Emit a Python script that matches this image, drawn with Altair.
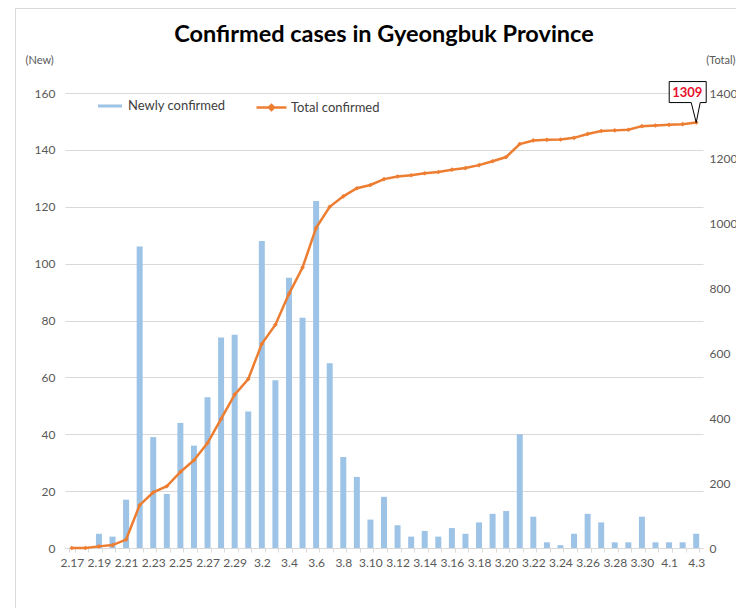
import altair as alt
import pandas as pd

dates = ["2.17", "2.18", "2.19", "2.20", "2.21", "2.22", "2.23", "2.24", "2.25", "2.26",
         "2.27", "2.28", "2.29", "3.1", "3.2", "3.3", "3.4", "3.5", "3.6", "3.7",
         "3.8", "3.9", "3.10", "3.11", "3.12", "3.13", "3.14", "3.15", "3.16", "3.17",
         "3.18", "3.19", "3.20", "3.21", "3.22", "3.23", "3.24", "3.25", "3.26", "3.27",
         "3.28", "3.29", "3.30", "3.31", "4.1", "4.2", "4.3"]
new_cases = [0, 0, 5, 4, 17, 106, 39, 19, 44, 36,
             53, 74, 75, 48, 108, 59, 95, 81, 122, 65,
             32, 25, 10, 18, 8, 4, 6, 4, 7, 5,
             9, 12, 13, 40, 11, 2, 1, 5, 12, 9,
             2, 2, 11, 2, 2, 2, 5]
total_cases = [0, 0, 5, 9, 26, 132, 171, 190, 234, 270,
               323, 397, 472, 520, 628, 687, 782, 863, 985, 1050,
               1082, 1107, 1117, 1135, 1143, 1147, 1153, 1157, 1164, 1169,
               1178, 1190, 1203, 1243, 1254, 1256, 1257, 1262, 1274, 1283,
               1285, 1287, 1298, 1300, 1302, 1304, 1309]
tick_labels = ["2.17", "2.19", "2.21", "2.23", "2.25", "2.27", "2.29", "3.2", "3.4", "3.6",
               "3.8", "3.10", "3.12", "3.14", "3.16", "3.18", "3.20", "3.22", "3.24", "3.26",
               "3.28", "3.30", "4.1", "4.3"]
series_names = ["Newly confirmed", "Total confirmed"]
left_ticks = [0, 20, 40, 60, 80, 100, 120, 140, 160]
right_ticks = [0, 200, 400, 600, 800, 1000, 1200, 1400]
last_date = "4.3"

bars_df = pd.DataFrame({"date": dates, "value": new_cases, "series": series_names[0]})
line_df = pd.DataFrame({"date": dates, "total": total_cases, "series": series_names[1]})

FONT = "Lato"
LABEL_COLOR = "#595959"
GRID = "#D9D9D9"
BLUE = "#9DC3E6"
ORANGE = "#ED7D31"

label_list = "[" + ",".join("'" + t + "'" for t in tick_labels) + "]"
x_enc = alt.X(
    "date:N", sort=dates,
    scale=alt.Scale(paddingInner=0.56, paddingOuter=0.28),
    axis=alt.Axis(
        title=None, labelAngle=0, labelOverlap=False,
        labelExpr=f"indexof({label_list}, datum.value) >= 0 ? datum.label : ''",
        labelFont=FONT, labelFontSize=12, labelColor=LABEL_COLOR, labelPadding=5,
        ticks=True, tickBand="extent", tickSize=4, tickColor=GRID,
        domain=True, domainColor=GRID, grid=False,
    ),
)

legend_line_shape = "M -1 0 L 1 0 M -0.17 0 L 0 -0.17 L 0.17 0 L 0 0.17 Z"
legend_bar_shape = "M -0.8 -0.1 L 0.8 -0.1 L 0.8 0.1 L -0.8 0.1 Z"
legend_common = dict(orient="none", legendY=-2, direction="horizontal", title=None,
                     labelFont=FONT, labelFontSize=13, labelColor="#404040",
                     symbolSize=900, labelOffset=3)
bar_legend = alt.Legend(legendX=30, symbolType=legend_bar_shape, symbolFillColor=BLUE,
                        symbolStrokeWidth=0, symbolOpacity=1, **legend_common)
line_legend = alt.Legend(legendX=190, symbolType=legend_line_shape, symbolFillColor=ORANGE,
                         symbolStrokeColor=ORANGE, symbolStrokeWidth=2.5, symbolOpacity=1,
                         **legend_common)

frame_data = alt.Data(values=[{}])
frame_left = alt.Chart(frame_data).mark_rule(color=GRID, strokeWidth=1).encode(
    x=alt.value(-49.5), y=alt.value(-85), y2=alt.value(530))
frame_top = alt.Chart(frame_data).mark_rule(color=GRID, strokeWidth=1).encode(
    x=alt.value(-49.5), x2=alt.value(700), y=alt.value(-84.5))

bars = alt.Chart(bars_df).mark_bar(opacity=1).encode(
    x=x_enc,
    y=alt.Y("value:Q", scale=alt.Scale(domain=[0, 160], nice=False),
            axis=alt.Axis(values=left_ticks, title="(New)", titleAngle=0, titleX=-40, titleY=-33,
                          titleAlign="left", titleBaseline="middle", titleFont=FONT,
                          titleFontSize=11, titleFontWeight="normal", titleColor=LABEL_COLOR,
                          labelFont=FONT, labelFontSize=12, labelColor=LABEL_COLOR,
                          labelPadding=10, ticks=False, domain=False, grid=True,
                          gridColor=GRID, gridWidth=1)),
    fill=alt.Fill("series:N", scale=alt.Scale(domain=[series_names[0]], range=[BLUE]),
                  legend=bar_legend),
)

y_right = alt.Y("total:Q", scale=alt.Scale(domain=[0, 1400], nice=False),
                axis=alt.Axis(orient="right", values=right_ticks, format="d", title="(Total)",
                              titleAngle=0, titleX=32, titleY=-33, titleAlign="right",
                              titleBaseline="middle", titleFont=FONT, titleFontSize=11,
                              titleFontWeight="normal", titleColor=LABEL_COLOR, labelFont=FONT,
                              labelFontSize=12, labelColor=LABEL_COLOR, labelPadding=6,
                              ticks=False, domain=False, grid=False))

line = alt.Chart(line_df).mark_line(strokeWidth=2.5).encode(
    x=alt.X("date:N", sort=dates), y=y_right,
    stroke=alt.Stroke("series:N", scale=alt.Scale(domain=[series_names[1]], range=[ORANGE]),
                      legend=line_legend),
)
pts = alt.Chart(line_df).mark_point(filled=True, shape="diamond", size=22, opacity=1,
                                    color=ORANGE).encode(
    x=alt.X("date:N", sort=dates), y=alt.Y("total:Q"),
)
callout_shape = "M -0.675 -1.025 L 0.25 -1.025 L 0.25 -0.5 L 0.1 -0.5 L 0 0 L -0.125 -0.5 L -0.675 -0.5 Z"
callout = alt.Chart(line_df).transform_filter(f"datum.date == '{last_date}'").mark_point(
    shape=callout_shape, size=6400, filled=True, fill="white", stroke="#000000",
    strokeWidth=1, opacity=1, fillOpacity=1, strokeOpacity=1).encode(
    x=alt.X("date:N", sort=dates), y=alt.Y("total:Q"))
callout_text = alt.Chart(line_df).transform_filter(f"datum.date == '{last_date}'").mark_text(
    font=FONT, fontSize=13, fontWeight="bold", color="#E8112D", dx=-9, dy=-30).encode(
    x=alt.X("date:N", sort=dates), y=alt.Y("total:Q"), text=alt.Text("total:Q"))

right_layer = alt.layer(line, pts, callout, callout_text)

chart = alt.layer(frame_left, frame_top, bars, right_layer).resolve_scale(
    y="independent"
).properties(
    width=638, height=455,
    title=alt.TitleParams("Confirmed cases in Gyeongbuk Province", font=FONT, fontSize=23.5,
                          fontWeight="bold", color="#000000", anchor="middle", offset=-39),
    autosize=alt.AutoSizeParams(type="none"),
    padding={"left": 57, "top": 85, "right": 33, "bottom": 60},
    background="white",
).configure_view(stroke=None)

chart.save("out.html", embed_options={"renderer": "svg", "actions": False})
